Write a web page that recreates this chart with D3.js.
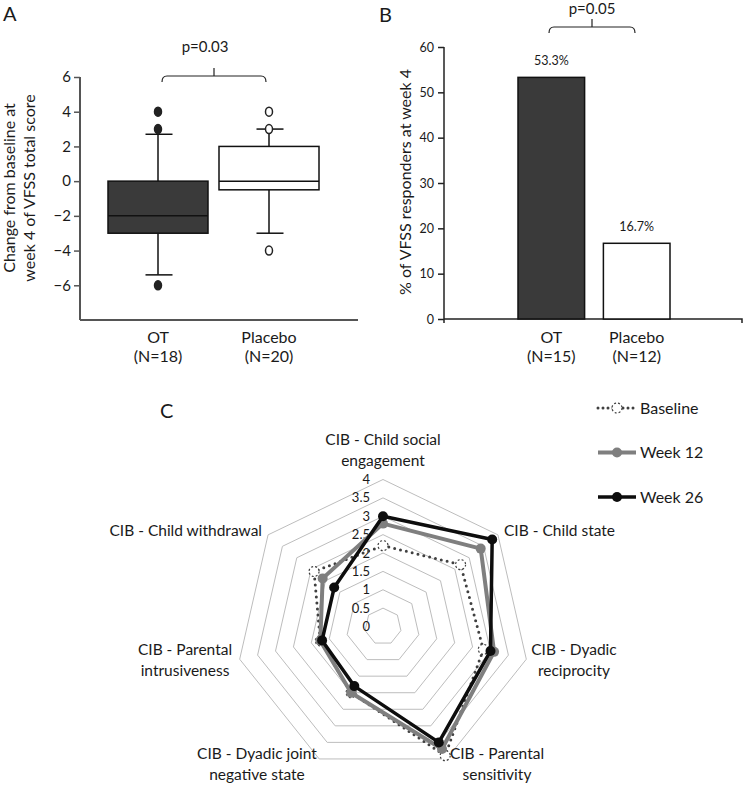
<!DOCTYPE html>
<html>
<head>
<meta charset="utf-8">
<script src="https://cdn.jsdelivr.net/npm/d3@7"></script>
<style>
  body { margin: 0; background: #fff; }
  svg { font-family: Lato, 'Open Sans', sans-serif; fill: #1a1a1a; }
</style>
</head>
<body>
<div id="chart"></div>
<script>
// panel A - box plot
let groupsA = ['OT', 'Placebo']
let countsA = ['(N=18)', '(N=20)']
let q1A = [-3, -0.5]
let medianA = [-2, 0]
let q3A = [0, 2]
let whiskerLowA = [-5.4, -3]
let whiskerHighA = [2.7, 3]
let outliersA = [[4, 3, -6], [4, 3, -4]]
let ticksA = [-6, -4, -2, 0, 2, 4, 6]

// panel B - responders
let groupsB = ['OT', 'Placebo']
let countsB = ['(N=15)', '(N=12)']
let respondersB = [53.3, 16.7]
let ticksB = [0, 10, 20, 30, 40, 50, 60]

// panel C - radar
let radarAxes = [
  ['CIB - Child social', 'engagement'],
  ['CIB - Child state'],
  ['CIB - Dyadic', 'reciprocity'],
  ['CIB - Parental', 'sensitivity'],
  ['CIB - Dyadic joint', 'negative state'],
  ['CIB - Parental', 'intrusiveness'],
  ['CIB - Child withdrawal']
]
let baseline = [2.2, 2.7, 2.8, 3.9, 2.0, 1.75, 2.4]
let week12 = [2.8, 3.4, 3.1, 3.7, 2.0, 1.75, 2.1]
let week26 = [3.0, 3.8, 3.0, 3.5, 1.8, 1.7, 1.7]
let radarRings = [0.5, 1, 1.5, 2, 2.5, 3, 3.5, 4]
let radarTicks = [0, 0.5, 1, 1.5, 2, 2.5, 3, 3.5, 4]

let width = 744,
  height = 785

let svg = d3.select('#chart')
  .append('svg')
  .attr('width', width)
  .attr('height', height)

function panelLetter(x, y, t) {
  svg.append('text').attr('x', x).attr('y', y).attr('font-size', 20).text(t)
}

function bracket(x1, x2, y) {
  let mid = (x1 + x2) / 2
  svg.append('path')
    .attr('d', `M${x1},${y + 6}Q${x1},${y} ${x1 + 5},${y}L${x2 - 5},${y}Q${x2},${y} ${x2},${y + 6}M${mid},${y}L${mid},${y - 8}`)
    .attr('fill', 'none')
    .attr('stroke', '#222')
    .attr('stroke-width', 1.2)
}

// ---------- A ----------
panelLetter(3, 21, 'A')

let yA = d3.scaleLinear().domain([-8, 6]).range([320, 77])
let xA = d3.scalePoint().domain(groupsA).range([158, 269])

let axisA = svg.append('g')
  .attr('transform', 'translate(80,0)')
  .call(d3.axisLeft(yA).tickValues(ticksA).tickSize(6).tickSizeOuter(0).tickFormat(d3.format('d')))
axisA.select('.domain').attr('stroke', '#555').attr('stroke-width', 2).attr('d', `M0,${yA(6)}V${yA(-8)}`)
axisA.selectAll('.tick line').attr('stroke', '#555').attr('stroke-width', 1.5)
axisA.selectAll('.tick text').attr('font-size', 15).attr('font-family', 'Lato').attr('fill', '#1a1a1a').attr('x', -9)

svg.append('line')
  .attr('x1', 80).attr('x2', 358)
  .attr('y1', yA(-8)).attr('y2', yA(-8))
  .attr('stroke', '#555').attr('stroke-width', 2)

let boxFill = ['#3a3a3a', '#fff']
let boxW = 100, capW = 27

groupsA.forEach((g, i) => {
  let cx = xA(g)
  let grp = svg.append('g')
  // whiskers
  grp.append('line').attr('x1', cx).attr('x2', cx).attr('y1', yA(q3A[i])).attr('y2', yA(whiskerHighA[i]))
    .attr('stroke', '#111').attr('stroke-width', 1.5)
  grp.append('line').attr('x1', cx).attr('x2', cx).attr('y1', yA(q1A[i])).attr('y2', yA(whiskerLowA[i]))
    .attr('stroke', '#111').attr('stroke-width', 1.5)
  ;[whiskerHighA[i], whiskerLowA[i]].forEach(v => {
    grp.append('line').attr('x1', cx - capW / 2 + 1).attr('x2', cx + capW / 2 + 1).attr('y1', yA(v)).attr('y2', yA(v))
      .attr('stroke', '#111').attr('stroke-width', 1.5)
  })
  grp.append('rect')
    .attr('x', cx - boxW / 2).attr('width', boxW)
    .attr('y', yA(q3A[i])).attr('height', yA(q1A[i]) - yA(q3A[i]))
    .attr('fill', boxFill[i]).attr('stroke', '#111').attr('stroke-width', 1.5)
  grp.append('line').attr('x1', cx - boxW / 2).attr('x2', cx + boxW / 2)
    .attr('y1', yA(medianA[i])).attr('y2', yA(medianA[i]))
    .attr('stroke', '#111').attr('stroke-width', 1.5)
  grp.selectAll('.out').data(outliersA[i]).enter().append('ellipse')
    .attr('cx', cx).attr('cy', d => yA(d))
    .attr('rx', 3.5).attr('ry', 4.5)
    .attr('fill', i === 0 ? '#222' : '#fff')
    .attr('stroke', '#222').attr('stroke-width', 1.5)

  svg.append('text').attr('x', cx).attr('y', 343).attr('text-anchor', 'middle').attr('font-size', 16).text(g)
  svg.append('text').attr('x', cx).attr('y', 362).attr('text-anchor', 'middle').attr('font-size', 16).text(countsA[i])
})

svg.append('text')
  .attr('transform', 'translate(15,188) rotate(-90)')
  .attr('text-anchor', 'middle').attr('font-size', 16)
  .text('Change from baseline at')
svg.append('text')
  .attr('transform', 'translate(35,188) rotate(-90)')
  .attr('text-anchor', 'middle').attr('font-size', 16)
  .text('week 4 of VFSS total score')

bracket(162, 266, 76)
svg.append('text').attr('x', 205).attr('y', 52).attr('text-anchor', 'middle').attr('font-size', 15).text('p=0.03')

// ---------- B ----------
panelLetter(379, 22, 'B')

let yB = d3.scaleLinear().domain([0, 60]).range([319, 47])
let xB = d3.scaleBand().domain(groupsB).range([518, 670]).paddingInner(0.22)

let axisB = svg.append('g')
  .attr('transform', 'translate(444,0)')
  .call(d3.axisLeft(yB).tickValues(ticksB).tickSize(6).tickSizeOuter(0))
axisB.select('.domain').attr('stroke', '#222').attr('stroke-width', 1.5).attr('d', `M0,${yB(60)}V${yB(0) + 4}`)
axisB.selectAll('.tick line').attr('stroke', '#222').attr('stroke-width', 1.5)
axisB.selectAll('.tick text').attr('font-size', 12.5).attr('font-family', 'Lato').attr('fill', '#1a1a1a').attr('x', -10)

svg.append('path')
  .attr('d', `M444,${yB(0)}H742V${yB(0) + 4}`)
  .attr('fill', 'none').attr('stroke', '#222').attr('stroke-width', 1.5)

svg.selectAll('.barB').data(respondersB).enter().append('rect')
  .attr('class', 'barB')
  .attr('x', (d, i) => xB(groupsB[i]))
  .attr('width', xB.bandwidth())
  .attr('y', d => yB(d))
  .attr('height', d => yB(0) - yB(d))
  .attr('fill', (d, i) => boxFill[i])
  .attr('stroke', '#111').attr('stroke-width', 1.5)

svg.selectAll('.barLabel').data(respondersB).enter().append('text')
  .attr('x', (d, i) => xB(groupsB[i]) + xB.bandwidth() / 2)
  .attr('y', d => yB(d) - 12)
  .attr('text-anchor', 'middle').attr('font-size', 12.5)
  .text(d => d.toFixed(1) + '%')

groupsB.forEach((g, i) => {
  let cx = xB(g) + xB.bandwidth() / 2
  svg.append('text').attr('x', cx).attr('y', 343).attr('text-anchor', 'middle').attr('font-size', 16).text(g)
  svg.append('text').attr('x', cx).attr('y', 362).attr('text-anchor', 'middle').attr('font-size', 16).text(countsB[i])
})

svg.append('text')
  .attr('transform', 'translate(411,182) rotate(-90)')
  .attr('text-anchor', 'middle').attr('font-size', 16)
  .text('% of VFSS responders at week 4')

bracket(549, 635, 27)
svg.append('text').attr('x', 592).attr('y', 14).attr('text-anchor', 'middle').attr('font-size', 15).text('p=0.05')

// ---------- C ----------
panelLetter(160, 418, 'C')

let cx = 383, cy = 626.5
let r = d3.scaleLinear().domain([0, 4]).range([0, 147])
let angle = d3.scaleLinear().domain([0, radarAxes.length]).range([0, 2 * Math.PI])

let radar = svg.append('g').attr('transform', `translate(${cx},${cy})`)

let ringLine = d3.lineRadial()
  .angle((d, i) => angle(i))
  .radius(d => r(d))
  .curve(d3.curveLinearClosed)

radar.selectAll('.ring').data(radarRings).enter().append('path')
  .attr('d', v => ringLine(radarAxes.map(() => v)))
  .attr('fill', 'none')
  .attr('stroke', '#bdbdbd')
  .attr('stroke-width', 1)

radar.selectAll('.rtick').data(radarTicks).enter().append('text')
  .attr('x', -13)
  .attr('y', d => -r(d))
  .attr('dy', '0.35em')
  .attr('text-anchor', 'end')
  .attr('font-size', 13)
  .text(d => d)

let series = [
  { name: 'Baseline', values: baseline, color: '#404040', width: 3, dash: '0 6', marker: '#fff', markerDash: '2 2' },
  { name: 'Week 12', values: week12, color: '#7f7f7f', width: 4, dash: null, marker: '#7f7f7f', markerDash: null },
  { name: 'Week 26', values: week26, color: '#0d0d0d', width: 3.5, dash: null, marker: '#0d0d0d', markerDash: null }
]

let point = (v, i) => [Math.sin(angle(i)) * r(v), -Math.cos(angle(i)) * r(v)]

series.forEach(s => {
  radar.append('path')
    .attr('d', ringLine(s.values))
    .attr('fill', 'none')
    .attr('stroke', s.color)
    .attr('stroke-width', s.width)
    .attr('stroke-linecap', s.dash ? 'round' : 'butt')
    .attr('stroke-linejoin', 'round')
    .attr('stroke-dasharray', s.dash)
  radar.selectAll(null).data(s.values).enter().append('circle')
    .attr('cx', (d, i) => point(d, i)[0])
    .attr('cy', (d, i) => point(d, i)[1])
    .attr('r', 5)
    .attr('fill', s.marker)
    .attr('stroke', s.color)
    .attr('stroke-width', s.markerDash ? 1.2 : 0)
    .attr('stroke-dasharray', s.markerDash)
})

// axis labels
let labelPos = [
  { x: 0, y: -182, anchor: 'middle' },
  { x: 121, y: -91, anchor: 'start' },
  { x: 191, y: 28, anchor: 'middle' },
  { x: 114, y: 132, anchor: 'middle' },
  { x: -126, y: 132, anchor: 'middle' },
  { x: -198, y: 28, anchor: 'middle' },
  { x: -121, y: -91, anchor: 'end' }
]
radarAxes.forEach((lines, i) => {
  let t = radar.append('text')
    .attr('x', labelPos[i].x)
    .attr('y', labelPos[i].y)
    .attr('text-anchor', labelPos[i].anchor)
    .attr('font-size', 15.5)
  lines.forEach((l, j) => {
    t.append('tspan').attr('x', labelPos[i].x).attr('dy', j === 0 ? 0 : 21).text(l)
  })
})

// legend
let legend = svg.append('g')
series.forEach((s, i) => {
  let y = 408 + i * 44.5
  let g = legend.append('g').attr('transform', `translate(598,${y})`)
  g.append('line').attr('x1', 0).attr('x2', 38)
    .attr('stroke', s.color).attr('stroke-width', s.width)
    .attr('stroke-linecap', s.dash ? 'round' : 'butt')
    .attr('stroke-dasharray', s.dash ? '0 5' : null)
  g.append('circle').attr('cx', 19).attr('r', 5)
    .attr('fill', s.marker).attr('stroke', s.color)
    .attr('stroke-width', s.markerDash ? 1.2 : 0)
    .attr('stroke-dasharray', s.markerDash)
  g.append('text').attr('x', 42).attr('dy', '0.35em').attr('font-size', 16).text(s.name)
})
</script>
</body>
</html>
